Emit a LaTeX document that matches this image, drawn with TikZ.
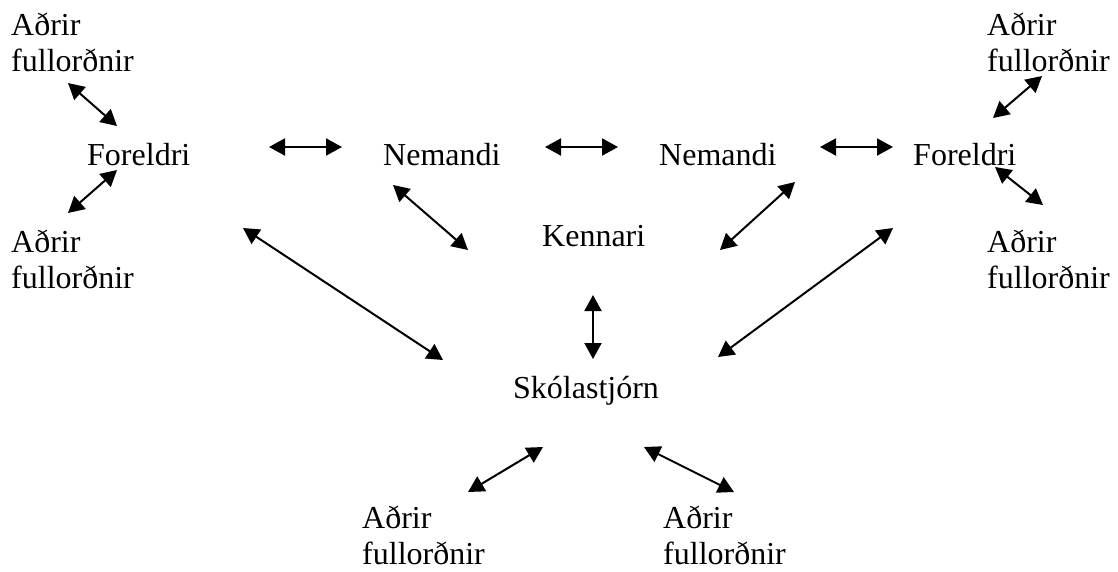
\documentclass[tikz,border=0pt]{standalone}
\usepackage{fontspec}
\setmainfont{Liberation Serif}
\usetikzlibrary{arrows.meta}
\tikzset{
  lbl/.style={anchor=base west, inner sep=0pt, font=\fontsize{32}{36}\selectfont},
  link/.style={{Triangle[length=16pt,width=17pt]}-{Triangle[length=16pt,width=17pt]}, line width=2pt}
}
\newcommand{\twoline}[2]{\vtop{\baselineskip=36pt\hbox{#1}\hbox{#2}}}
\begin{document}
\begin{tikzpicture}[x=1pt,y=-1pt]
\useasboundingbox (0,0) rectangle (1118,571);
% nodes
\node[lbl] (atl) at (11,35) {\twoline{Aðrir}{fullorðnir}};
\node[lbl] (abl) at (11,252) {\twoline{Aðrir}{fullorðnir}};
\node[lbl] (atr) at (987,35) {\twoline{Aðrir}{fullorðnir}};
\node[lbl] (abr) at (987,252) {\twoline{Aðrir}{fullorðnir}};
\node[lbl] (asl) at (362,528) {\twoline{Aðrir}{fullorðnir}};
\node[lbl] (asr) at (663,528) {\twoline{Aðrir}{fullorðnir}};
\node[lbl] (fl) at (87,165) {Foreldri};
\node[lbl] (fr) at (913,165) {Foreldri};
\node[lbl] (nl) at (383,165) {Nemandi};
\node[lbl] (nr) at (659,165) {Nemandi};
\node[lbl] (k) at (542,246) {Kennari};
\node[lbl] (s) at (513,398) {Skólastjórn};
% arrow end points
\coordinate (c1a) at (68,83);   \coordinate (c1b) at (117,126);
\coordinate (c2a) at (117,170); \coordinate (c2b) at (68,213);
\coordinate (c3a) at (269,147); \coordinate (c3b) at (342,147);
\coordinate (c4a) at (545,147); \coordinate (c4b) at (618,147);
\coordinate (c5a) at (820,147); \coordinate (c5b) at (893,147);
\coordinate (c6a) at (1042,76); \coordinate (c6b) at (993,118);
\coordinate (c7a) at (995,167); \coordinate (c7b) at (1043,205);
\coordinate (c8a) at (393,185); \coordinate (c8b) at (468,250);
\coordinate (c9a) at (795,182); \coordinate (c9b) at (720,250);
\coordinate (c10a) at (243,228); \coordinate (c10b) at (443,360);
\coordinate (c11a) at (893,228); \coordinate (c11b) at (718,357);
\coordinate (c12a) at (593,295); \coordinate (c12b) at (593,359);
\coordinate (c13a) at (543,447); \coordinate (c13b) at (468,492);
\coordinate (c14a) at (644,447); \coordinate (c14b) at (734,492);
% connectors
\foreach \i in {1,...,14} {\draw[link] (c\i a) -- (c\i b);}
\end{tikzpicture}
\end{document}
